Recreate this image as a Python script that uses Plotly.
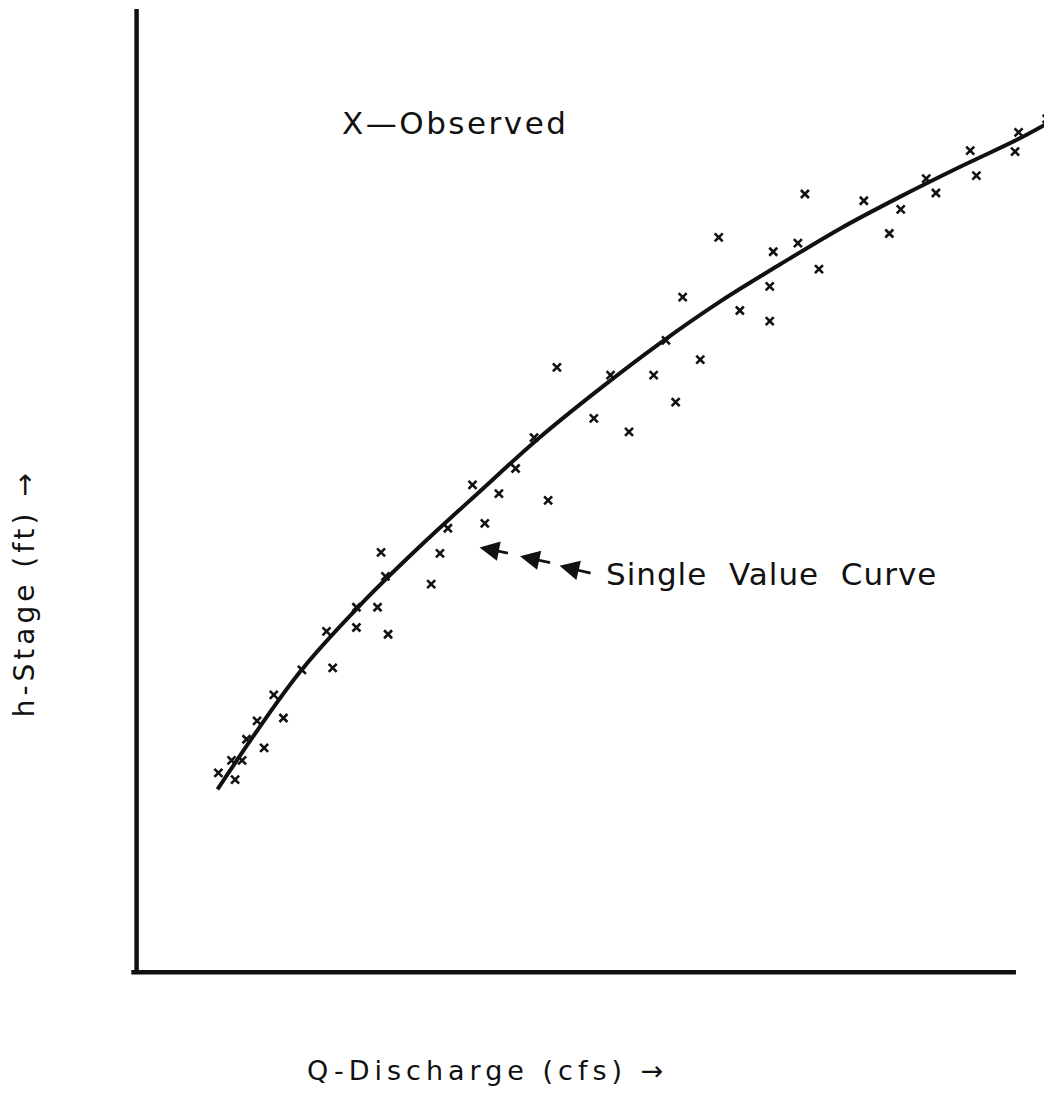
import plotly.graph_objects as go

obs_q = [9.3, 11.2, 10.8, 12.0, 12.5, 14.5, 13.7, 16.7, 15.6, 18.8,
         22.3, 21.6, 25.0, 28.6, 25.0, 27.4, 27.8, 28.3, 33.5, 34.5,
         35.4, 39.6, 38.2, 41.2, 46.8, 43.1, 45.2, 47.8, 52.0, 56.0,
         53.9, 58.8, 60.2, 64.1, 61.3, 62.1, 66.2, 68.6, 72.0, 72.0,
         72.4, 75.2, 76.0, 77.6, 82.7, 85.6, 86.9, 89.8, 90.9, 94.8,
         95.5, 99.9, 100.3, 103.5]
obs_h = [20.7, 20.0, 22.0, 22.0, 24.2, 23.3, 26.1, 26.4, 28.8, 31.4,
         31.6, 35.4, 35.8, 35.1, 37.9, 37.9, 43.6, 41.1, 40.3, 43.5,
         46.1, 46.6, 50.6, 49.7, 49.0, 52.3, 55.5, 62.8, 57.5, 56.1,
         62.0, 62.0, 65.6, 63.6, 59.2, 70.1, 76.3, 68.7, 71.2, 67.6,
         74.8, 75.7, 80.8, 73.0, 80.1, 76.7, 79.2, 82.4, 80.9, 85.3,
         82.7, 85.2, 87.2, 88.6]

# Single value rating curve
curve_q = [9.2, 18.5, 25.4, 32.2, 39.0, 45.8, 52.7, 59.5, 66.3, 73.2,
           80.0, 86.8, 93.6, 100.5, 104.3]
curve_h = [19.0, 31.1, 38.1, 44.2, 49.9, 55.5, 60.6, 65.3, 69.6, 73.5,
           77.2, 80.5, 83.6, 86.6, 88.5]

FONT = "DejaVu Sans"
INK = "#111111"


def spaced(text, px):
    return f'<span style="letter-spacing:{px}px">{text}</span>'


fig = go.Figure()
fig.add_trace(go.Scatter(x=curve_q, y=curve_h, mode="lines",
                         line=dict(color=INK, width=4, shape="spline", smoothing=1.0),
                         hoverinfo="skip", showlegend=False))
fig.add_trace(go.Scatter(x=obs_q, y=obs_h, mode="markers",
                         marker=dict(symbol="x-thin", size=8,
                                     line=dict(color=INK, width=2.6)),
                         showlegend=False))

# axis lines
fig.add_shape(type="line", x0=0, x1=0, y0=-0.1, y1=100, xref="x", yref="y",
              line=dict(color=INK, width=4.5))
fig.add_shape(type="line", x0=-0.6, x1=100, y0=0, y1=0, xref="x", yref="y",
              line=dict(color=INK, width=4.5))

annotations = [
    dict(x=36.2, y=88.2, xref="x", yref="y", text=spaced("X\u2014Observed", 2.5), showarrow=False,
         font=dict(family=FONT, size=31, color=INK)),
    dict(x=53.2, y=41.4, xref="x", yref="y", text=spaced("Single  Value  Curve", 1.0), showarrow=False,
         xanchor="left", font=dict(family=FONT, size=31, color=INK)),
    dict(x=-0.1012, y=0.399, xref="paper", yref="paper", text=spaced("h-Stage (ft) \u2192", 4),
         xanchor="center", yanchor="middle",
         textangle=-90, showarrow=False, font=dict(family=FONT, size=28, color=INK)),
    dict(x=0.395, y=-0.0909, xref="paper", yref="paper", text=spaced("Q-Discharge (cfs) \u2192", 5),
         xanchor="center", yanchor="middle",
         showarrow=False, font=dict(family=FONT, size=27, color=INK)),
]
arrows = [((39.0, 44.1), (42.4, 43.5)), ((43.6, 43.2), (47.2, 42.5)), ((48.1, 42.2), (51.8, 41.4))]
for (hx, hy), (tx, ty) in arrows:
    annotations.append(dict(x=hx, y=hy, ax=tx, ay=ty, xref="x", yref="y", axref="x", ayref="y",
                            text="", showarrow=True, arrowhead=2, arrowsize=1.4, arrowwidth=2.8,
                            arrowcolor=INK))

fig.update_layout(
    width=1044, height=1103,
    margin=dict(l=111.4, r=0, t=1, b=129.4),
    paper_bgcolor="white", plot_bgcolor="white",
    xaxis=dict(range=[-2, 104.1], visible=False),
    yaxis=dict(range=[-1, 100], visible=False),
    annotations=annotations,
    showlegend=False,
)
fig.write_html("out.html")
